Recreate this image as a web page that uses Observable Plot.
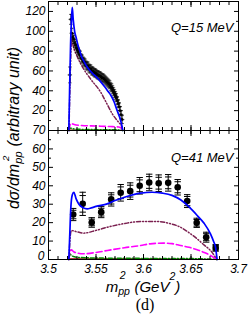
<!DOCTYPE html>
<html><head><meta charset="utf-8">
<script src="https://cdn.jsdelivr.net/npm/d3@7"></script>
<script src="https://cdn.jsdelivr.net/npm/@observablehq/plot@0.6"></script>
<style>
body{margin:0;background:#fff;}
#wrap{position:relative;width:249px;height:323px;overflow:hidden;font-family:"Liberation Sans",Arial,sans-serif;color:#000;}
#top,#bot{position:absolute;left:0;}
#top{top:0px}
#bot{top:120px}
.ytitle{position:absolute;left:13.5px;top:128px;transform:translate(-50%,-50%) rotate(-90deg);white-space:nowrap;font-style:italic;font-size:16px;line-height:18px;}
.xtitle{position:absolute;left:143px;top:279px;transform:translateX(-50%);white-space:nowrap;font-style:italic;font-size:15px;line-height:15px;}
.cap{position:absolute;left:145px;top:297px;transform:translateX(-50%);font-family:"Liberation Serif","Times New Roman",serif;font-size:16px;line-height:16px;}
.ss{display:inline-block;position:relative;width:1.15em;height:1em;font-size:0.7em;}
.ss .sp{position:absolute;left:0.15em;bottom:1.05em;line-height:1;}
.ss .sb{position:absolute;left:0;bottom:-0.43em;line-height:1;}
.ytitle .ss .sp{font-size:0.85em;bottom:0.85em;left:0.3em;}
.up{font-size:0.7em;position:relative;top:-1.1em;}
</style>
</head><body>
<div id="wrap">
  <div id="top"></div>
  <div id="bot"></div>
  <div class="ytitle">dσ/dm<span class="ss"><span class="sp">2</span><span class="sb">pp</span></span> (arbitrary unit)</div>
  <div class="xtitle">m<span class="ss"><span class="sp">2</span><span class="sb">pp</span></span> (GeV<span class="up">2</span>)</div>
  <div class="cap">(d)</div>
</div>
<script>
// ---- axis ticks / labels ----
const xMajor = [3.5, 3.55, 3.6, 3.65, 3.7];
const xMinor = d3.range(0, 21).map(i => 3.5 + i * 0.01);
const yTopLabels = [20, 40, 60, 80, 100, 120];
const yTopMajor = [0, 20, 40, 60, 80, 100, 120];
const yTopMinor = [10, 30, 50, 70, 90, 110, 130];
const yBotLabels = [10, 20, 30, 40, 50, 60, 70];
const yBotZero = [0];
const yBotMajor = [0, 10, 20, 30, 40, 50, 60, 70];
const yBotMinor = [5, 15, 25, 35, 45, 55, 65];
const label15 = "Q=15 MeV";
const label41 = "Q=41 MeV";

// ---- Q = 15 MeV data ----
const data15X = [3.5225,3.5235,3.5245,3.5255,3.5265,3.5275,3.5285,3.5295,3.5305,3.5315,3.5325,3.5335,3.5345,3.5355,3.5365,3.5375,3.5385,3.5395,3.5405,3.5415,3.5425,3.5435,3.5445,3.5455,3.5465,3.5475,3.5485,3.5495,3.5505,3.5515,3.5525,3.5535,3.5545,3.5555,3.5565,3.5575,3.5585,3.5595,3.5605,3.5615,3.5625,3.5635,3.5645,3.5655,3.5665,3.5675,3.5685,3.5695,3.5705,3.5715,3.5725,3.5735,3.5745,3.5755,3.5765,3.5775];
const data15Y = [56,112,98,94,92,88,86,83,81,79,77,76,73,72,70,69,68,66,65,65,63,62,62,60,60,59,58,58,57,56,56,55,55,54,53,53,52,51,50,49,48,47,46,44,43,41,39,37,35,33,30,27,24,20,16,11];
const data15E = [8,5,5,4,4,4,4,4,4,4,4,4,4,4,4,4,4,4,4,4,4,4,4,4,4,4,4,4,4,4,4,4,4,4,4,4,4,4,4,4,4,4,4,4,4,4,4,4,4,4,4,4,4,4,4,4];

const blue15 = [[3.5214,0],[3.5222,40],[3.5232,85],[3.5242,112],[3.5250,124],[3.5260,112],[3.5275,100],[3.5290,94],[3.5310,86],[3.5330,80],[3.5350,74],[3.5372,70],[3.5400,65],[3.5440,60],[3.5480,56],[3.5513,53],[3.5550,49],[3.5600,43],[3.5630,39],[3.5653,36],[3.5690,29],[3.5723,20],[3.5750,13],[3.5772,5],[3.5782,0]];
const maroon15 = [[3.5216,0],[3.5230,60],[3.5245,92],[3.5260,85],[3.5300,75],[3.5370,62],[3.5450,51],[3.5547,39],[3.5620,26],[3.5670,17],[3.5740,8],[3.5770,4],[3.5782,0]];
const magenta15 = [[3.5216,0],[3.5225,5],[3.5235,7],[3.5270,6],[3.5350,5],[3.5500,4.5],[3.5650,4],[3.5740,3.5],[3.5770,2],[3.5782,0]];
const green15 = [[3.5216,0],[3.5225,2.5],[3.5270,1.5],[3.5400,1],[3.5600,0.8],[3.5760,0.5],[3.5782,0]];
const red15 = [[3.5214,0],[3.5230,0.3],[3.5500,0.3],[3.5782,0]];

// ---- Q = 41 MeV data ----
const data41X = [3.526,3.536,3.5455,3.5555,3.566,3.576,3.586,3.596,3.606,3.616,3.626,3.636,3.646,3.656,3.666,3.676];
const data41Y = [24.4,30.2,20.1,25.7,32.6,36.2,37.1,40.0,41.8,41.4,41.6,39.2,31.7,19.9,12.1,6.3];
const data41Etot = [3.3,6.3,2.6,3.0,3.6,4.5,4.5,4.5,4.5,4.5,4.5,4.2,3.5,2.5,2.7,1.8];
const data41Estat = [2.3,4.5,1.8,2.1,2.5,3.2,3.2,3.2,3.2,3.2,3.2,3.0,2.5,1.8,1.9,1.2];

const blue41 = [[3.5214,0],[3.5225,15],[3.5235,28],[3.5250,35],[3.5267,36.5],[3.5290,33],[3.5320,30],[3.5360,28.2],[3.5407,27.5],[3.5450,28],[3.5500,28.8],[3.5618,30.2],[3.5700,32],[3.5800,33.8],[3.5968,36],[3.6090,36.5],[3.6200,36],[3.6300,34.8],[3.6390,32.4],[3.6480,28.5],[3.6565,23.9],[3.6640,19.5],[3.6705,13.9],[3.6740,9.5],[3.6758,6.7],[3.6770,2],[3.6775,0]];
const maroon41 = [[3.5216,0],[3.5225,10],[3.5240,15.7],[3.5300,15],[3.5370,14.3],[3.5500,15.8],[3.5620,17.5],[3.5800,19.5],[3.5970,20.6],[3.6140,20.6],[3.6280,19.5],[3.6390,17.5],[3.6480,14.5],[3.6565,11.2],[3.6640,7.8],[3.6705,4.9],[3.6760,1],[3.6772,0]];
const magenta41 = [[3.5216,0],[3.5225,4],[3.5240,5.2],[3.5270,4],[3.5370,3.1],[3.5500,3.8],[3.5620,4.9],[3.5800,6.4],[3.5970,7.6],[3.6070,8.5],[3.6210,8.9],[3.6300,8.6],[3.6390,7.6],[3.6480,6.6],[3.6565,5.3],[3.6640,3.8],[3.6705,2.2],[3.6760,0.5],[3.6772,0]];
const green41 = [[3.5216,0],[3.5225,3],[3.5245,2],[3.5300,1.2],[3.5500,0.8],[3.6000,0.6],[3.6500,0.5],[3.6772,0]];
const red41 = [[3.5214,0],[3.5230,0.3],[3.6000,0.3],[3.6775,0]];

// ---- build tables ----
const pts15 = data15X.map((x, i) => ({x, y: data15Y[i], lo: data15Y[i] - data15E[i], hi: data15Y[i] + data15E[i]}));
const pts41 = data41X.map((x, i) => ({x, y: data41Y[i],
  lo: data41Y[i] - data41Etot[i], hi: data41Y[i] + data41Etot[i],
  slo: data41Y[i] - data41Estat[i], shi: data41Y[i] + data41Estat[i]}));

const capSym = {draw(ctx, size) { const w = Math.sqrt(size / Math.PI); ctx.moveTo(-w, 0); ctx.lineTo(w, 0); }};

const style = {background: "transparent", fontFamily: "'Liberation Sans', Arial, sans-serif", fontSize: "12px", fontStyle: "italic", color: "black"};

function frameMarks(yMajor, yMinor) {
  return [
    Plot.frame({stroke: "black"}),
    Plot.axisY(yMajor, {anchor: "left", tickSize: -5, fill: "none"}),
    Plot.axisY(yMinor, {anchor: "left", tickSize: -3, fill: "none"}),
    Plot.axisY(yMajor, {anchor: "right", tickSize: -5, fill: "none"}),
    Plot.axisY(yMinor, {anchor: "right", tickSize: -3, fill: "none"}),
    Plot.axisX(xMajor, {anchor: "bottom", tickSize: -5, fill: "none"}),
    Plot.axisX(xMinor, {anchor: "bottom", tickSize: -3, fill: "none"}),
    Plot.axisX(xMajor, {anchor: "top", tickSize: -5, fill: "none"}),
    Plot.axisX(xMinor, {anchor: "top", tickSize: -3, fill: "none"})
  ];
}

function curves(maroon, magenta, green, red) {
  return [
    Plot.line(red, {x: "0", y: "1", stroke: "#8b0000", strokeWidth: 1.2, curve: "monotone-x"}),
    Plot.line(green, {x: "0", y: "1", stroke: "#008800", strokeWidth: 1.5, strokeDasharray: "4,2,1,2", curve: "monotone-x"}),
    Plot.line(magenta, {x: "0", y: "1", stroke: "#ff00ff", strokeWidth: 1.6, strokeDasharray: "6,3", curve: "monotone-x"}),
    Plot.line(maroon, {x: "0", y: "1", stroke: "#7b2050", strokeWidth: 1.5, strokeDasharray: "4,2,1,2,1,2", curve: "monotone-x"})
  ];
}

const topPlot = Plot.plot({
  width: 249, height: 140,
  marginLeft: 48, marginRight: 11, marginTop: 1, marginBottom: 10,
  x: {domain: [3.5, 3.7]},
  y: {domain: [0, 130]},
  style,
  marks: [
    ...curves(maroon15, magenta15, green15, red15),
    Plot.ruleX(pts15, {x: "x", y1: "lo", y2: "hi", stroke: "black", strokeWidth: 0.8}),
    Plot.dot(pts15, {x: "x", y: "lo", symbol: capSym, r: 1.6, stroke: "black", strokeWidth: 0.8}),
    Plot.dot(pts15, {x: "x", y: "hi", symbol: capSym, r: 1.6, stroke: "black", strokeWidth: 0.8}),
    Plot.dot(pts15, {x: "x", y: "y", symbol: capSym, r: 2.2, stroke: "black", strokeWidth: 0.8}),
    Plot.dot(pts15, {x: "x", y: "y", symbol: "square", r: 1.3, fill: "black"}),
    Plot.line(blue15, {x: "0", y: "1", stroke: "#0000ff", strokeWidth: 1.7, curve: "monotone-x"}),
    ...frameMarks(yTopMajor, yTopMinor),
    Plot.axisY(yTopLabels, {anchor: "left", tickSize: 0, tickPadding: 3, label: null, fontStyle: "italic"}),
    Plot.text([label15], {frameAnchor: "top-right", dx: -5, dy: 21, textAnchor: "end", fontSize: 13, fontStyle: "italic"})
  ]
});
document.getElementById("top").appendChild(topPlot);

const botPlot = Plot.plot({
  width: 249, height: 159,
  marginLeft: 48, marginRight: 11, marginTop: 10, marginBottom: 20,
  x: {domain: [3.5, 3.7]},
  y: {domain: [0, 70]},
  style,
  marks: [
    ...curves(maroon41, magenta41, green41, red41),
    Plot.ruleX(pts41, {x: "x", y1: "lo", y2: "hi", stroke: "black", strokeWidth: 1}),
    Plot.dot(pts41, {x: "x", y: "lo", symbol: capSym, r: 3.2, stroke: "black", strokeWidth: 1}),
    Plot.dot(pts41, {x: "x", y: "hi", symbol: capSym, r: 3.2, stroke: "black", strokeWidth: 1}),
    Plot.dot(pts41, {x: "x", y: "slo", symbol: capSym, r: 3.2, stroke: "black", strokeWidth: 1}),
    Plot.dot(pts41, {x: "x", y: "shi", symbol: capSym, r: 3.2, stroke: "black", strokeWidth: 1}),
    Plot.dot(pts41, {x: "x", y: "y", r: 3.3, fill: "black"}),
    Plot.line(blue41, {x: "0", y: "1", stroke: "#0000ff", strokeWidth: 1.7, curve: "monotone-x"}),
    ...frameMarks(yBotMajor, yBotMinor),
    Plot.axisY(yBotLabels, {anchor: "left", tickSize: 0, tickPadding: 3, label: null, fontStyle: "italic"}),
    Plot.axisY(yBotZero, {anchor: "left", tickSize: 0, tickPadding: 4, label: null, fontStyle: "italic", dy: -3}),
    Plot.axisX(xMajor, {anchor: "bottom", tickSize: 0, tickPadding: 5, label: null, fontStyle: "italic", tickFormat: d => String(d)}),
    Plot.text([label41], {frameAnchor: "top-right", dx: -5, dy: 22, textAnchor: "end", fontSize: 13, fontStyle: "italic"})
  ]
});
document.getElementById("bot").appendChild(botPlot);
</script>
</body></html>
